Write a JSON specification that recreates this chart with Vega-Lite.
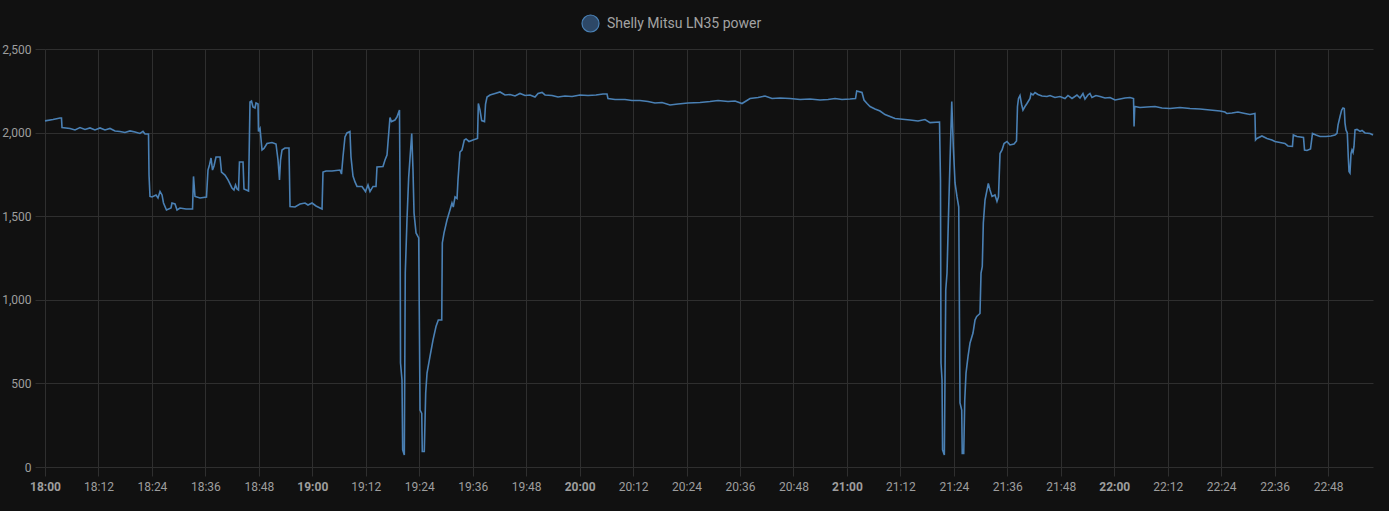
{
  "$schema": "https://vega.github.io/schema/vega-lite/v6.json",
  "autosize": {"type": "none"},
  "width": 1328,
  "height": 418,
  "padding": {"left": 45, "top": 49, "right": 16, "bottom": 44},
  "background": "#111111",
  "config": {"view": {"stroke": null}, "font": "Roboto"},
  "data": {
    "format": {"parse": {"t": "utc:'%H:%M:%S'"}},
    "values": [
      {"t":"18:00:00","w":2070},{"t":"18:01:48","w":2078},{"t":"18:03:22","w":2087},{"t":"18:03:42","w":2087},{"t":"18:03:49","w":2030},
      {"t":"18:05:37","w":2025},{"t":"18:06:44","w":2016},{"t":"18:07:51","w":2030},{"t":"18:08:59","w":2019},{"t":"18:10:06","w":2028},
      {"t":"18:11:13","w":2016},{"t":"18:12:21","w":2028},{"t":"18:13:28","w":2016},{"t":"18:14:35","w":2025},{"t":"18:15:43","w":2010},
      {"t":"18:16:50","w":2007},{"t":"18:17:57","w":2001},{"t":"18:19:05","w":2010},{"t":"18:20:12","w":2004},{"t":"18:21:19","w":1995},
      {"t":"18:22:00","w":2007},{"t":"18:22:27","w":1992},{"t":"18:23:14","w":1992},{"t":"18:23:21","w":1746},{"t":"18:23:34","w":1618},
      {"t":"18:24:01","w":1615},{"t":"18:24:55","w":1627},{"t":"18:25:22","w":1609},{"t":"18:25:49","w":1648},{"t":"18:26:16","w":1627},
      {"t":"18:26:36","w":1579},{"t":"18:27:16","w":1537},{"t":"18:28:17","w":1549},{"t":"18:28:30","w":1579},{"t":"18:29:11","w":1573},
      {"t":"18:29:38","w":1537},{"t":"18:30:18","w":1549},{"t":"18:31:39","w":1543},{"t":"18:33:07","w":1543},{"t":"18:33:20","w":1738},
      {"t":"18:33:40","w":1618},{"t":"18:34:48","w":1609},{"t":"18:36:15","w":1615},{"t":"18:36:35","w":1776},{"t":"18:36:55","w":1806},
      {"t":"18:37:16","w":1848},{"t":"18:37:36","w":1776},{"t":"18:37:56","w":1800},{"t":"18:38:23","w":1854},{"t":"18:39:17","w":1854},
      {"t":"18:39:37","w":1764},{"t":"18:40:24","w":1746},{"t":"18:41:05","w":1717},{"t":"18:41:58","w":1669},{"t":"18:42:25","w":1657},
      {"t":"18:42:46","w":1687},{"t":"18:43:06","w":1663},{"t":"18:43:26","w":1657},{"t":"18:43:39","w":1824},{"t":"18:44:27","w":1824},
      {"t":"18:44:40","w":1663},{"t":"18:45:41","w":1651},{"t":"18:46:01","w":2183},{"t":"18:46:21","w":2189},{"t":"18:46:41","w":2153},
      {"t":"18:47:08","w":2147},{"t":"18:47:22","w":2177},{"t":"18:47:49","w":2171},{"t":"18:47:55","w":2007},{"t":"18:48:16","w":2025},
      {"t":"18:48:43","w":1896},{"t":"18:49:09","w":1905},{"t":"18:49:50","w":1935},{"t":"18:50:57","w":1941},{"t":"18:51:51","w":1932},
      {"t":"18:52:18","w":1836},{"t":"18:52:38","w":1717},{"t":"18:52:52","w":1836},{"t":"18:53:12","w":1896},{"t":"18:53:52","w":1908},
      {"t":"18:54:46","w":1908},{"t":"18:55:00","w":1558},{"t":"18:56:07","w":1555},{"t":"18:57:14","w":1573},{"t":"18:58:22","w":1579},
      {"t":"18:59:02","w":1567},{"t":"18:59:56","w":1579},{"t":"19:00:50","w":1561},{"t":"19:01:44","w":1549},{"t":"19:02:11","w":1543},
      {"t":"19:02:24","w":1764},{"t":"19:03:05","w":1770},{"t":"19:04:25","w":1770},{"t":"19:06:13","w":1776},{"t":"19:06:33","w":1752},
      {"t":"19:06:53","w":1854},{"t":"19:07:20","w":1974},{"t":"19:07:47","w":1998},{"t":"19:08:27","w":2007},{"t":"19:08:41","w":1854},
      {"t":"19:09:08","w":1740},{"t":"19:09:35","w":1705},{"t":"19:10:02","w":1678},{"t":"19:11:09","w":1678},{"t":"19:11:56","w":1648},
      {"t":"19:12:30","w":1687},{"t":"19:12:57","w":1648},{"t":"19:13:38","w":1678},{"t":"19:14:18","w":1678},{"t":"19:14:31","w":1794},
      {"t":"19:15:52","w":1797},{"t":"19:16:19","w":1836},{"t":"19:16:46","w":1866},{"t":"19:17:26","w":2090},{"t":"19:17:46","w":2066},
      {"t":"19:18:33","w":2075},{"t":"19:19:00","w":2093},{"t":"19:19:34","w":2135},{"t":"19:19:41","w":1687},{"t":"19:19:48","w":622},
      {"t":"19:20:08","w":520},{"t":"19:20:17","w":102},{"t":"19:20:39","w":72},{"t":"19:20:52","w":1160},{"t":"19:21:15","w":1477},
      {"t":"19:21:38","w":1734},{"t":"19:22:19","w":1995},{"t":"19:22:36","w":1776},{"t":"19:22:50","w":1519},{"t":"19:23:17","w":1400},
      {"t":"19:23:53","w":1370},{"t":"19:24:11","w":341},{"t":"19:24:34","w":320},{"t":"19:24:41","w":93},{"t":"19:25:08","w":93},
      {"t":"19:25:27","w":443},{"t":"19:25:45","w":562},{"t":"19:26:25","w":661},{"t":"19:27:06","w":760},{"t":"19:27:46","w":840},
      {"t":"19:28:17","w":879},{"t":"19:29:03","w":879},{"t":"19:29:11","w":1340},{"t":"19:29:34","w":1400},{"t":"19:30:14","w":1477},
      {"t":"19:30:54","w":1537},{"t":"19:31:21","w":1579},{"t":"19:31:39","w":1555},{"t":"19:32:02","w":1615},{"t":"19:32:29","w":1606},
      {"t":"19:32:42","w":1717},{"t":"19:33:09","w":1884},{"t":"19:33:36","w":1896},{"t":"19:34:07","w":1956},{"t":"19:34:30","w":1962},
      {"t":"19:35:10","w":1947},{"t":"19:36:04","w":1956},{"t":"19:37:05","w":1965},{"t":"19:37:16","w":2174},{"t":"19:37:38","w":2135},
      {"t":"19:38:01","w":2072},{"t":"19:38:39","w":2066},{"t":"19:38:53","w":2171},{"t":"19:39:13","w":2213},{"t":"19:39:53","w":2225},
      {"t":"19:41:01","w":2234},{"t":"19:42:08","w":2243},{"t":"19:43:15","w":2225},{"t":"19:44:23","w":2228},{"t":"19:45:30","w":2219},
      {"t":"19:46:37","w":2234},{"t":"19:47:45","w":2222},{"t":"19:48:52","w":2225},{"t":"19:49:59","w":2213},{"t":"19:50:40","w":2234},
      {"t":"19:51:34","w":2240},{"t":"19:52:14","w":2225},{"t":"19:53:48","w":2222},{"t":"19:55:09","w":2213},{"t":"19:56:43","w":2219},
      {"t":"19:58:18","w":2216},{"t":"20:00:05","w":2225},{"t":"20:01:53","w":2222},{"t":"20:03:41","w":2225},{"t":"20:05:15","w":2231},
      {"t":"20:06:09","w":2231},{"t":"20:06:22","w":2204},{"t":"20:07:57","w":2198},{"t":"20:10:11","w":2198},{"t":"20:11:45","w":2192},
      {"t":"20:13:33","w":2192},{"t":"20:15:21","w":2186},{"t":"20:16:55","w":2177},{"t":"20:18:30","w":2180},{"t":"20:20:17","w":2165},
      {"t":"20:22:05","w":2171},{"t":"20:24:20","w":2177},{"t":"20:27:01","w":2180},{"t":"20:29:16","w":2186},{"t":"20:31:04","w":2192},
      {"t":"20:33:19","w":2186},{"t":"20:34:53","w":2189},{"t":"20:36:27","w":2174},{"t":"20:38:15","w":2204},{"t":"20:40:03","w":2210},
      {"t":"20:41:37","w":2219},{"t":"20:43:11","w":2204},{"t":"20:44:59","w":2207},{"t":"20:47:14","w":2204},{"t":"20:49:28","w":2198},
      {"t":"20:51:43","w":2201},{"t":"20:53:58","w":2195},{"t":"20:55:46","w":2198},{"t":"20:57:20","w":2204},{"t":"20:58:54","w":2198},
      {"t":"21:00:42","w":2201},{"t":"21:01:56","w":2204},{"t":"21:02:12","w":2249},{"t":"21:03:23","w":2240},{"t":"21:03:50","w":2195},
      {"t":"21:04:31","w":2174},{"t":"21:05:11","w":2156},{"t":"21:06:18","w":2141},{"t":"21:07:26","w":2129},{"t":"21:08:33","w":2108},
      {"t":"21:09:40","w":2096},{"t":"21:10:48","w":2084},{"t":"21:11:55","w":2081},{"t":"21:14:10","w":2075},{"t":"21:15:57","w":2069},
      {"t":"21:17:32","w":2078},{"t":"21:18:39","w":2060},{"t":"21:20:47","w":2063},{"t":"21:21:00","w":1717},{"t":"21:21:07","w":622},
      {"t":"21:21:21","w":520},{"t":"21:21:28","w":102},{"t":"21:21:52","w":72},{"t":"21:22:11","w":1059},{"t":"21:22:28","w":1160},
      {"t":"21:22:51","w":1555},{"t":"21:23:09","w":1836},{"t":"21:23:32","w":2186},{"t":"21:23:53","w":1914},{"t":"21:24:16","w":1699},
      {"t":"21:24:43","w":1615},{"t":"21:25:06","w":1555},{"t":"21:25:23","w":383},{"t":"21:25:46","w":341},{"t":"21:25:53","w":81},
      {"t":"21:26:13","w":81},{"t":"21:26:27","w":401},{"t":"21:26:44","w":562},{"t":"21:27:11","w":661},{"t":"21:27:38","w":742},
      {"t":"21:28:18","w":801},{"t":"21:28:45","w":879},{"t":"21:29:08","w":900},{"t":"21:29:52","w":918},{"t":"21:30:06","w":1160},
      {"t":"21:30:23","w":1199},{"t":"21:30:37","w":1459},{"t":"21:31:00","w":1597},{"t":"21:31:27","w":1657},{"t":"21:31:44","w":1696},
      {"t":"21:32:07","w":1657},{"t":"21:32:34","w":1618},{"t":"21:33:14","w":1627},{"t":"21:33:41","w":1588},{"t":"21:34:01","w":1615},
      {"t":"21:34:22","w":1875},{"t":"21:34:49","w":1896},{"t":"21:35:16","w":1935},{"t":"21:35:56","w":1947},{"t":"21:36:36","w":1926},
      {"t":"21:37:30","w":1932},{"t":"21:38:04","w":1950},{"t":"21:38:17","w":2156},{"t":"21:38:31","w":2204},{"t":"21:38:51","w":2222},
      {"t":"21:39:14","w":2165},{"t":"21:39:31","w":2135},{"t":"21:39:58","w":2156},{"t":"21:40:25","w":2174},{"t":"21:41:06","w":2204},
      {"t":"21:41:19","w":2234},{"t":"21:41:46","w":2225},{"t":"21:42:13","w":2240},{"t":"21:42:53","w":2228},{"t":"21:43:47","w":2219},
      {"t":"21:44:54","w":2216},{"t":"21:45:35","w":2222},{"t":"21:46:42","w":2210},{"t":"21:47:49","w":2216},{"t":"21:48:57","w":2204},
      {"t":"21:49:37","w":2222},{"t":"21:50:31","w":2204},{"t":"21:51:38","w":2225},{"t":"21:52:19","w":2207},{"t":"21:52:59","w":2234},
      {"t":"21:53:26","w":2201},{"t":"21:54:06","w":2225},{"t":"21:54:33","w":2234},{"t":"21:55:00","w":2210},{"t":"21:55:54","w":2222},
      {"t":"21:56:49","w":2216},{"t":"21:57:56","w":2207},{"t":"21:59:03","w":2210},{"t":"22:00:11","w":2195},{"t":"22:01:18","w":2201},
      {"t":"22:02:25","w":2207},{"t":"22:03:32","w":2210},{"t":"22:04:20","w":2204},{"t":"22:04:27","w":2037},{"t":"22:04:36","w":2156},
      {"t":"22:05:47","w":2150},{"t":"22:07:21","w":2153},{"t":"22:09:09","w":2156},{"t":"22:10:43","w":2147},{"t":"22:12:31","w":2144},
      {"t":"22:14:45","w":2150},{"t":"22:17:00","w":2144},{"t":"22:19:15","w":2141},{"t":"22:21:29","w":2135},{"t":"22:23:44","w":2129},
      {"t":"22:24:51","w":2123},{"t":"22:25:18","w":2114},{"t":"22:26:26","w":2117},{"t":"22:27:46","w":2123},{"t":"22:29:21","w":2114},
      {"t":"22:30:28","w":2108},{"t":"22:31:35","w":2114},{"t":"22:31:43","w":1956},{"t":"22:32:02","w":1965},{"t":"22:33:09","w":1980},
      {"t":"22:34:17","w":1965},{"t":"22:35:24","w":1956},{"t":"22:36:04","w":1947},{"t":"22:37:12","w":1941},{"t":"22:38:19","w":1935},
      {"t":"22:38:59","w":1920},{"t":"22:40:00","w":1917},{"t":"22:40:12","w":1986},{"t":"22:41:01","w":1977},{"t":"22:42:29","w":1971},
      {"t":"22:42:43","w":1896},{"t":"22:43:16","w":1893},{"t":"22:44:03","w":1902},{"t":"22:44:30","w":1995},{"t":"22:45:17","w":1986},
      {"t":"22:46:11","w":1977},{"t":"22:47:32","w":1977},{"t":"22:48:39","w":1980},{"t":"22:49:33","w":1986},{"t":"22:50:00","w":1995},
      {"t":"22:50:14","w":2045},{"t":"22:50:41","w":2096},{"t":"22:51:03","w":2135},{"t":"22:51:21","w":2147},{"t":"22:51:38","w":2144},
      {"t":"22:51:48","w":2057},{"t":"22:52:01","w":2016},{"t":"22:52:19","w":1998},{"t":"22:52:32","w":1854},{"t":"22:52:42","w":1767},
      {"t":"22:52:55","w":1758},{"t":"22:53:09","w":1875},{"t":"22:53:22","w":1896},{"t":"22:53:36","w":1881},{"t":"22:53:49","w":1917},
      {"t":"22:54:03","w":2016},{"t":"22:54:30","w":2019},{"t":"22:55:10","w":2007},{"t":"22:55:37","w":2013},{"t":"22:56:18","w":1998},
      {"t":"22:57:25","w":1995},{"t":"22:58:05","w":1986}
    ]
  },
  "mark": {"type": "line", "strokeWidth": 1.6, "interpolate": "linear"},
  "encoding": {
    "x": {
      "field": "t",
      "type": "temporal",
      "scale": {"type": "utc", "domain": [
        {"utc": true, "year": 1900, "month": 1, "date": 1, "hours": 18, "minutes": 0},
        {"utc": true, "year": 1900, "month": 1, "date": 1, "hours": 22, "minutes": 58, "seconds": 5}
      ]},
      "axis": {
        "title": null,
        "format": "%H:%M",
        "values": [
          {"utc": true, "year": 1900, "month": 1, "date": 1, "hours": 18, "minutes": 0},
          {"utc": true, "year": 1900, "month": 1, "date": 1, "hours": 18, "minutes": 12},
          {"utc": true, "year": 1900, "month": 1, "date": 1, "hours": 18, "minutes": 24},
          {"utc": true, "year": 1900, "month": 1, "date": 1, "hours": 18, "minutes": 36},
          {"utc": true, "year": 1900, "month": 1, "date": 1, "hours": 18, "minutes": 48},
          {"utc": true, "year": 1900, "month": 1, "date": 1, "hours": 19, "minutes": 0},
          {"utc": true, "year": 1900, "month": 1, "date": 1, "hours": 19, "minutes": 12},
          {"utc": true, "year": 1900, "month": 1, "date": 1, "hours": 19, "minutes": 24},
          {"utc": true, "year": 1900, "month": 1, "date": 1, "hours": 19, "minutes": 36},
          {"utc": true, "year": 1900, "month": 1, "date": 1, "hours": 19, "minutes": 48},
          {"utc": true, "year": 1900, "month": 1, "date": 1, "hours": 20, "minutes": 0},
          {"utc": true, "year": 1900, "month": 1, "date": 1, "hours": 20, "minutes": 12},
          {"utc": true, "year": 1900, "month": 1, "date": 1, "hours": 20, "minutes": 24},
          {"utc": true, "year": 1900, "month": 1, "date": 1, "hours": 20, "minutes": 36},
          {"utc": true, "year": 1900, "month": 1, "date": 1, "hours": 20, "minutes": 48},
          {"utc": true, "year": 1900, "month": 1, "date": 1, "hours": 21, "minutes": 0},
          {"utc": true, "year": 1900, "month": 1, "date": 1, "hours": 21, "minutes": 12},
          {"utc": true, "year": 1900, "month": 1, "date": 1, "hours": 21, "minutes": 24},
          {"utc": true, "year": 1900, "month": 1, "date": 1, "hours": 21, "minutes": 36},
          {"utc": true, "year": 1900, "month": 1, "date": 1, "hours": 21, "minutes": 48},
          {"utc": true, "year": 1900, "month": 1, "date": 1, "hours": 22, "minutes": 0},
          {"utc": true, "year": 1900, "month": 1, "date": 1, "hours": 22, "minutes": 12},
          {"utc": true, "year": 1900, "month": 1, "date": 1, "hours": 22, "minutes": 24},
          {"utc": true, "year": 1900, "month": 1, "date": 1, "hours": 22, "minutes": 36},
          {"utc": true, "year": 1900, "month": 1, "date": 1, "hours": 22, "minutes": 48}
        ],
        "domain": false,
        "grid": true,
        "gridColor": "#2f2f2f",
        "gridOpacity": 1,
        "tickColor": "#2f2f2f",
        "tickSize": 9,
        "labelPadding": 5,
        "labelFont": "Roboto",
        "labelFontSize": 12,
        "labelColor": "#9e9e9e",
        "labelFontWeight": {"condition": {"test": "utcminutes(datum.value) === 0", "value": "bold"}, "value": "normal"},
        "labelFlush": false,
        "labelOverlap": false
      }
    },
    "y": {
      "field": "w",
      "type": "quantitative",
      "scale": {"domain": [0, 2500], "nice": false},
      "axis": {
        "title": null,
        "values": [0, 500, 1000, 1500, 2000, 2500],
        "domain": false,
        "grid": true,
        "gridColor": "#2f2f2f",
        "gridOpacity": 1,
        "tickColor": "#2f2f2f",
        "tickSize": 10,
        "labelPadding": 4,
        "labelFont": "Roboto",
        "labelFontSize": 12,
        "labelColor": "#9e9e9e"
      }
    },
    "color": {
      "datum": "Shelly Mitsu LN35 power",
      "type": "nominal",
      "scale": {"range": ["#4a80b4"]},
      "legend": {
        "title": null,
        "orient": "none",
        "legendX": 536,
        "legendY": -35,
        "padding": 0,
        "symbolType": "circle",
        "symbolSize": 289,
        "symbolStrokeWidth": 1.2,
        "symbolFillColor": "#2d4867",
        "labelFont": "Roboto",
        "labelFontSize": 14,
        "labelColor": "#a3a3a3",
        "labelOffset": 7,
        "labelLimit": 400
      }
    }
  }
}
